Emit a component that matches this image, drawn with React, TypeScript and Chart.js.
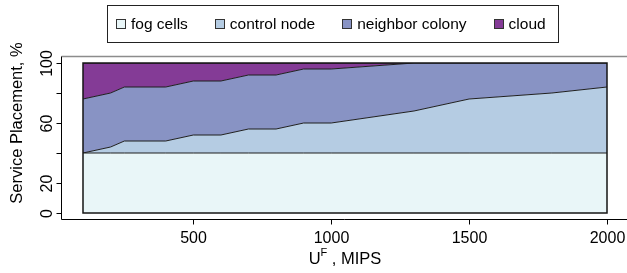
import React, { useEffect, useRef } from 'react';
import { Chart, registerables } from 'chart.js';

Chart.register(...registerables);

const xValues = [100, 200, 250, 400, 500, 600, 700, 800, 900, 1000, 1300, 1500, 1800, 2000];
const fogCells = [40, 40, 40, 40, 40, 40, 40, 40, 40, 40, 40, 40, 40, 40];
const controlNode = [0, 4, 8, 8, 12, 12, 16, 16, 20, 20, 28, 36, 40, 44];
const neighborColony = [36, 36, 36, 36, 36, 36, 36, 36, 36, 36, 32, 24, 20, 16];
const cloud = [24, 20, 16, 16, 12, 12, 8, 8, 4, 4, 0, 0, 0, 0];

const seriesLabels = ['fog cells', 'control node', 'neighbor colony', 'cloud'];
const seriesColors = ['#E9F6F8', '#B5CCE3', '#8893C4', '#843B96'];

const yTickValues = [0, 20, 40, 60, 80, 100];
const yTickLabels = ['0', '20', '', '60', '', '100'];
const xTickValues = [500, 1000, 1500, 2000];
const xTickLabels = ['500', '1000', '1500', '2000'];

const FONT = '"Liberation Sans", Arial, Helvetica, sans-serif';

const rStylePlugin = {
  id: 'rStyle',
  afterDraw(chart: any) {
    const { ctx, chartArea: ca, scales } = chart;
    const xs = scales.x;
    const ys = scales.y;
    ctx.save();

    // plot data box outline
    ctx.strokeStyle = '#151515';
    ctx.lineWidth = 1.5;
    ctx.strokeRect(ca.left, ca.top, ca.right - ca.left, ca.bottom - ca.top);

    const axX = ca.left - 21.5;
    const axY = ca.bottom + 6.5;
    const topY = ca.top - 6.5;

    // gray top line
    ctx.strokeStyle = '#8c8c8c';
    ctx.lineWidth = 1.5;
    ctx.beginPath();
    ctx.moveTo(axX, topY);
    ctx.lineTo(chart.width, topY);
    ctx.stroke();

    // axes
    ctx.strokeStyle = '#000';
    ctx.lineWidth = 1;
    ctx.beginPath();
    ctx.moveTo(axX, topY);
    ctx.lineTo(axX, axY);
    ctx.lineTo(chart.width, axY);
    ctx.stroke();

    ctx.fillStyle = '#000';
    ctx.font = `16px ${FONT}`;

    // y ticks
    yTickValues.forEach((v, i) => {
      const py = Math.round(ys.getPixelForValue(v)) + 0.5;
      ctx.beginPath();
      ctx.moveTo(axX - 5, py);
      ctx.lineTo(axX, py);
      ctx.stroke();
      const lab = yTickLabels[i];
      if (lab) {
        ctx.save();
        ctx.translate(axX - 14, py);
        ctx.rotate(-Math.PI / 2);
        ctx.textAlign = 'center';
        ctx.textBaseline = 'middle';
        ctx.fillText(lab, 0, 0);
        ctx.restore();
      }
    });

    // x ticks
    xTickValues.forEach((v, i) => {
      const px = Math.round(xs.getPixelForValue(v)) + 0.5;
      ctx.beginPath();
      ctx.moveTo(px, axY);
      ctx.lineTo(px, axY + 5);
      ctx.stroke();
      ctx.textAlign = 'center';
      ctx.textBaseline = 'alphabetic';
      ctx.fillText(xTickLabels[i], px, axY + 23);
    });

    // y title
    ctx.save();
    ctx.font = `16.5px ${FONT}`;
    ctx.translate(22, 123);
    ctx.rotate(-Math.PI / 2);
    ctx.textAlign = 'center';
    ctx.textBaseline = 'alphabetic';
    ctx.fillText('Service Placement, %', 0, 0);
    ctx.restore();

    // x title: U^F , MIPS
    ctx.font = `16.5px ${FONT}`;
    const wU = ctx.measureText('U').width;
    const rest = ' , MIPS';
    const wRest = ctx.measureText(rest).width;
    ctx.font = `11px ${FONT}`;
    const wF = ctx.measureText('F').width;
    const total = wU + wF + wRest;
    let tx = 345 - total / 2;
    const baseY = 264;
    ctx.textAlign = 'left';
    ctx.font = `16.5px ${FONT}`;
    ctx.fillText('U', tx, baseY);
    tx += wU;
    ctx.font = `11px ${FONT}`;
    ctx.fillText('F', tx, baseY - 8);
    tx += wF;
    ctx.font = `16.5px ${FONT}`;
    ctx.fillText(rest, tx, baseY);

    // legend
    ctx.font = `15.5px ${FONT}`;
    ctx.textBaseline = 'middle';
    const legTop = 5.5;
    const legBottom = 42.5;
    const cy = (legTop + legBottom) / 2;
    let lx = 116;
    const starts: number[] = [];
    const ends: number[] = [];
    seriesLabels.forEach((lab) => {
      starts.push(lx);
      const tw = ctx.measureText(lab).width;
      ends.push(lx + 15 + tw);
      lx = lx + 15 + tw + 27;
    });
    const legLeft = 107.5;
    const legRight = Math.round(ends[ends.length - 1] + 12) + 0.5;
    ctx.fillStyle = '#fff';
    ctx.fillRect(legLeft, legTop, legRight - legLeft, legBottom - legTop);
    ctx.strokeStyle = '#222';
    ctx.lineWidth = 1;
    ctx.strokeRect(legLeft, legTop, legRight - legLeft, legBottom - legTop);
    seriesLabels.forEach((lab, i) => {
      const sx = Math.round(starts[i]) + 0.5;
      const sy = Math.round(cy - 5) + 0.5;
      ctx.fillStyle = seriesColors[i];
      ctx.fillRect(sx, sy, 9, 9);
      ctx.strokeStyle = '#333';
      ctx.strokeRect(sx, sy, 9, 9);
      ctx.fillStyle = '#000';
      ctx.textAlign = 'left';
      ctx.fillText(lab, starts[i] + 15, cy + 1);
    });

    ctx.restore();
  },
};

export default function App() {
  const canvasRef = useRef<HTMLCanvasElement | null>(null);

  useEffect(() => {
    document.body.style.margin = '0';
    const canvas = canvasRef.current;
    if (!canvas) return;
    const mk = (vals: number[]) => xValues.map((x, i) => ({ x, y: vals[i] }));
    const seriesValues = [fogCells, controlNode, neighborColony, cloud];
    const chart = new Chart(canvas, {
      type: 'line',
      data: {
        datasets: seriesValues.map((vals, i) => ({
          label: seriesLabels[i],
          data: mk(vals),
          backgroundColor: seriesColors[i],
          borderColor: '#1e1e1e',
          borderWidth: 1,
          pointRadius: 0,
          tension: 0,
          fill: i === 0 ? 'origin' : '-1',
        })),
      },
      options: {
        responsive: false,
        animation: false,
        devicePixelRatio: 1,
        layout: { padding: { left: 83, right: 20, top: 63, bottom: 60 } },
        plugins: { legend: { display: false }, tooltip: { enabled: false } },
        scales: {
          x: { type: 'linear', min: 100, max: 2000, display: false },
          y: { type: 'linear', min: 0, max: 100, stacked: true, display: false },
        },
      },
      plugins: [rStylePlugin],
    });
    return () => chart.destroy();
  }, []);

  return (
    <div style={{ position: 'fixed', left: 0, top: 0, width: 627, height: 273, background: '#fff' }}>
      <canvas ref={canvasRef} width={627} height={273} style={{ display: 'block' }} />
    </div>
  );
}
